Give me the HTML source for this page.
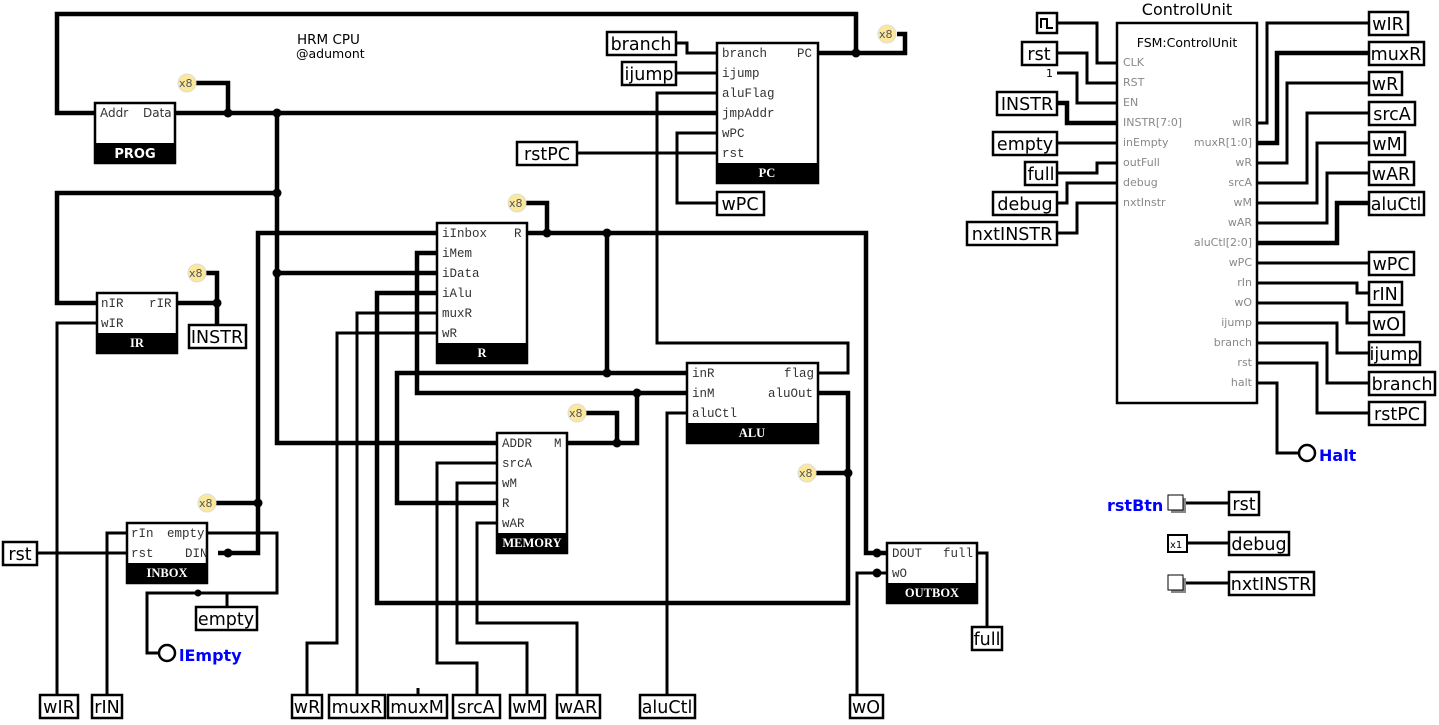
<!DOCTYPE html>
<html><head><meta charset="utf-8"><style>
body{margin:0;background:#fff}
svg{display:block}
.w{fill:none;stroke:#000;stroke-width:3}
.b{fill:none;stroke:#000;stroke-width:4.5}
.box{fill:#fff;stroke:#000;stroke-width:2.5}
.p{font-family:"Liberation Mono",monospace;font-size:12.5px;fill:#333}
.ft{font-family:"Liberation Serif",serif;font-size:12.5px;font-weight:bold;fill:#fff}
.lb{font-family:"DejaVu Sans","Liberation Sans",sans-serif;font-size:17.5px;fill:#000}
.cu{font-family:"DejaVu Sans","Liberation Sans",sans-serif;font-size:11px;fill:#888}
.x8{fill:#fbe89a;stroke:#ddd;stroke-width:1}
.x8t{font-family:"DejaVu Sans",sans-serif;font-size:11px;fill:#555}
</style></head><body>
<svg width="1439" height="725" viewBox="0 0 1439 725" xmlns="http://www.w3.org/2000/svg">
<g class="b">
<path d="M95 113H57V14H856V53"/>
<path d="M818 53H905V34H897"/>
<path d="M175 113H717"/>
<path d="M228 113V83H195"/>
<path d="M277 113V443H497"/>
<path d="M277 193H57V303H97"/>
<path d="M277 273H437"/>
<path d="M177 303H217V273H205"/>
<path d="M217 303V325"/>
<path d="M437 233H258V553H218"/>
<path d="M258 503H215"/>
<path d="M437 253H417V393H687"/>
<path d="M637 393V443H567"/>
<path d="M617 443V413H585"/>
<path d="M437 293H377V603H848V393H818"/>
<path d="M848 473H815"/>
<path d="M527 233H866V553H887"/>
<path d="M547 233V203H525"/>
<path d="M607 233V373H687"/>
<path d="M607 373H397V503H497"/>
<path d="M1057 103H1067V123H1117"/>
<path d="M1257 143H1277V53H1369"/>
<path d="M1257 243H1337V203H1369"/>
</g>
<g class="w">
<path d="M97 323H57V695"/>
<path d="M437 313H357V695"/>
<path d="M437 333H337V643H307V695"/>
<path d="M818 373H848V343H657V93H717"/>
<path d="M687 413H667V695"/>
<path d="M497 463H437V663H477V695"/>
<path d="M497 483H457V643H527V695"/>
<path d="M497 523H477V623H577V695"/>
<path d="M418 695V688"/>
<path d="M887 573H857V695"/>
<path d="M977 553H987V627"/>
<path d="M676 43H687V53H717"/>
<path d="M676 73H717"/>
<path d="M577 153H717"/>
<path d="M717 133H677V203H717"/>
<path d="M127 533H107V695"/>
<path d="M37 553H127"/>
<path d="M207 533H277V593H147V653H159"/>
<path d="M227 593V607"/>
<path d="M1057 23H1097V63H1117"/>
<path d="M1057 53H1087V83H1117"/>
<path d="M1057 73H1077V103H1117"/>
<path d="M1057 143H1117"/>
<path d="M1057 173H1097V163H1117"/>
<path d="M1057 203H1067V183H1117"/>
<path d="M1057 233H1077V203H1117"/>
<path d="M1257 123H1267V23H1369"/>
<path d="M1257 163H1287V83H1369"/>
<path d="M1257 183H1307V113H1369"/>
<path d="M1257 203H1317V143H1369"/>
<path d="M1257 223H1327V173H1369"/>
<path d="M1257 263H1369"/>
<path d="M1257 283H1357V293H1369"/>
<path d="M1257 303H1347V323H1369"/>
<path d="M1257 323H1337V353H1369"/>
<path d="M1257 343H1327V383H1369"/>
<path d="M1257 363H1317V413H1369"/>
<path d="M1257 383H1277V453H1299"/>
<path d="M1185 503H1229"/>
<path d="M1187 543H1229"/>
<path d="M1185 583H1229"/>
</g>
<g fill="#000">
<circle cx="856" cy="53" r="4.5"/><circle cx="228" cy="113" r="4.5"/><circle cx="277" cy="113" r="4.5"/>
<circle cx="277" cy="193" r="4.5"/><circle cx="277" cy="273" r="4.5"/><circle cx="217" cy="303" r="4.5"/>
<circle cx="547" cy="233" r="4.5"/><circle cx="607" cy="233" r="4.5"/><circle cx="607" cy="373" r="4.5"/>
<circle cx="637" cy="393" r="4.5"/><circle cx="617" cy="443" r="4.5"/><circle cx="848" cy="473" r="4.5"/>
<circle cx="258" cy="503" r="4.5"/><circle cx="228" cy="553" r="4.5"/><circle cx="877" cy="553" r="4.5"/>
<circle cx="877" cy="573" r="4.5"/><circle cx="198" cy="593" r="3.5"/>
</g>
<g>
<circle class="x8" cx="187" cy="83" r="9"/><text class="x8t" x="179" y="87">x8</text>
<circle class="x8" cx="887" cy="34" r="9"/><text class="x8t" x="879" y="38">x8</text>
<circle class="x8" cx="197" cy="273" r="9"/><text class="x8t" x="189" y="277">x8</text>
<circle class="x8" cx="517" cy="203" r="9"/><text class="x8t" x="509" y="207">x8</text>
<circle class="x8" cx="577" cy="413" r="9"/><text class="x8t" x="569" y="417">x8</text>
<circle class="x8" cx="807" cy="473" r="9"/><text class="x8t" x="799" y="477">x8</text>
<circle class="x8" cx="207" cy="503" r="9"/><text class="x8t" x="199" y="507">x8</text>
</g>
<text x="297" y="44" font-family="DejaVu Sans,sans-serif" font-size="13.5">HRM CPU</text>
<text x="296" y="58" font-family="DejaVu Sans,sans-serif" font-size="12.5">@adumont</text>
<rect class="box" x="95" y="103" width="80" height="60"/><rect x="95" y="143" width="80" height="20"/>
<text x="100" y="117" font-family="DejaVu Sans,sans-serif" font-size="12" fill="#333">Addr</text>
<text x="143" y="117" font-family="DejaVu Sans,sans-serif" font-size="12" fill="#333">Data</text>
<text x="135" y="158" text-anchor="middle" font-family="DejaVu Sans,sans-serif" font-size="13" font-weight="bold" fill="#fff">PROG</text>
<rect class="box" x="97" y="293" width="80" height="60"/><rect x="97" y="333" width="80" height="20"/>
<text class="p" x="101" y="307">nIR</text><text class="p" x="149" y="307">rIR</text><text class="p" x="101" y="327">wIR</text>
<text class="ft" x="137" y="347" text-anchor="middle">IR</text>
<rect class="box" x="437" y="223" width="90" height="140"/><rect x="437" y="343" width="90" height="20"/>
<text class="p" x="442" y="237">iInbox</text><text class="p" x="514" y="237">R</text>
<text class="p" x="442" y="257">iMem</text><text class="p" x="442" y="277">iData</text><text class="p" x="442" y="297">iAlu</text>
<text class="p" x="442" y="317">muxR</text><text class="p" x="442" y="337">wR</text>
<text class="ft" x="482" y="357" text-anchor="middle">R</text>
<rect class="box" x="717" y="43" width="101" height="140"/><rect x="717" y="163" width="101" height="20"/>
<text class="p" x="722" y="57">branch</text><text class="p" x="797" y="57">PC</text>
<text class="p" x="722" y="77">ijump</text><text class="p" x="722" y="97">aluFlag</text><text class="p" x="722" y="117">jmpAddr</text>
<text class="p" x="722" y="137">wPC</text><text class="p" x="722" y="157">rst</text>
<text class="ft" x="767" y="177" text-anchor="middle">PC</text>
<rect class="box" x="687" y="363" width="131" height="80"/><rect x="687" y="423" width="131" height="20"/>
<text class="p" x="692" y="377">inR</text><text class="p" x="784" y="377">flag</text>
<text class="p" x="692" y="397">inM</text><text class="p" x="768" y="397">aluOut</text><text class="p" x="692" y="417">aluCtl</text>
<text class="ft" x="752" y="437" text-anchor="middle">ALU</text>
<rect class="box" x="497" y="433" width="70" height="120"/><rect x="497" y="533" width="70" height="20"/>
<text class="p" x="502" y="447">ADDR</text><text class="p" x="554" y="447">M</text>
<text class="p" x="502" y="467">srcA</text><text class="p" x="502" y="487">wM</text><text class="p" x="502" y="507">R</text><text class="p" x="502" y="527">wAR</text>
<text class="ft" x="532" y="547" text-anchor="middle" font-size="11">MEMORY</text>
<rect class="box" x="127" y="523" width="80" height="60"/><rect x="127" y="563" width="80" height="20"/>
<text class="p" x="131" y="537">rIn</text><text class="p" x="167" y="537" font-size="11.5">empty</text>
<text class="p" x="131" y="557">rst</text><text class="p" x="185" y="557">DIN</text>
<text class="ft" x="167" y="577" text-anchor="middle">INBOX</text>
<rect class="box" x="887" y="543" width="90" height="60"/><rect x="887" y="583" width="90" height="20"/>
<text class="p" x="892" y="557">DOUT</text><text class="p" x="943" y="557">full</text><text class="p" x="892" y="577" font-size="11">wO</text>
<text class="ft" x="932" y="597" text-anchor="middle">OUTBOX</text>
<g fill="#fff" stroke="#000" stroke-width="2.5">
<rect x="607" y="32" width="69" height="23"/><rect x="622" y="62" width="54" height="23"/>
<rect x="517" y="142" width="60" height="23"/><rect x="717" y="192" width="47" height="23"/>
<rect x="189" y="325" width="57" height="23"/><rect x="3" y="542" width="34" height="23"/>
<rect x="196" y="607" width="61" height="23"/>
<rect x="40" y="695" width="38" height="23"/><rect x="92" y="695" width="30" height="23"/>
<rect x="292" y="695" width="30" height="23"/><rect x="329" y="695" width="56" height="23"/>
<rect x="388" y="695" width="59" height="23"/><rect x="453" y="695" width="47" height="23"/>
<rect x="510" y="695" width="35" height="23"/><rect x="557" y="695" width="43" height="23"/>
<rect x="640" y="695" width="55" height="23"/><rect x="850" y="695" width="33" height="23"/>
<rect x="972" y="627" width="30" height="23"/>
<rect x="1037" y="13" width="20" height="20"/>
<rect x="1022" y="42" width="35" height="23"/><rect x="997" y="92" width="60" height="23"/>
<rect x="993" y="132" width="64" height="23"/><rect x="1025" y="162" width="32" height="23"/>
<rect x="993" y="192" width="64" height="23"/><rect x="967" y="222" width="90" height="23"/>
<rect x="1369" y="12" width="39" height="23"/><rect x="1369" y="42" width="55" height="23"/>
<rect x="1369" y="72" width="33" height="23"/><rect x="1369" y="102" width="46" height="23"/>
<rect x="1369" y="132" width="36" height="23"/><rect x="1369" y="162" width="45" height="23"/>
<rect x="1369" y="192" width="55" height="23"/><rect x="1369" y="252" width="45" height="23"/>
<rect x="1369" y="282" width="33" height="23"/><rect x="1369" y="312" width="35" height="23"/>
<rect x="1369" y="342" width="51" height="23"/><rect x="1369" y="372" width="66" height="23"/>
<rect x="1369" y="402" width="56" height="23"/>
<rect x="1229" y="492" width="30" height="23"/><rect x="1229" y="532" width="60" height="23"/>
<rect x="1229" y="572" width="85" height="23"/>
<circle cx="167" cy="653" r="8"/><circle cx="1307" cy="453" r="8"/>
</g>
<path d="M1041 28V19H1047V28H1053" fill="none" stroke="#000" stroke-width="2"/>
<g class="lb" text-anchor="middle">
<text x="641" y="50">branch</text><text x="649" y="80">ijump</text><text x="547" y="160">rstPC</text><text x="740" y="210">wPC</text>
<text x="217" y="343">INSTR</text><text x="20" y="560">rst</text><text x="226" y="625">empty</text>
<text x="59" y="713">wIR</text><text x="107" y="713">rIN</text><text x="307" y="713">wR</text><text x="357" y="713">muxR</text>
<text x="417" y="713">muxM</text><text x="476" y="713">srcA</text><text x="527" y="713">wM</text><text x="578" y="713">wAR</text>
<text x="667" y="713">aluCtl</text><text x="866" y="713">wO</text><text x="987" y="645">full</text>
<text x="1039" y="60">rst</text><text x="1027" y="110">INSTR</text><text x="1025" y="150">empty</text><text x="1041" y="180">full</text>
<text x="1025" y="210">debug</text><text x="1012" y="240">nxtINSTR</text>
<text x="1388" y="30">wIR</text><text x="1396" y="60">muxR</text><text x="1385" y="90">wR</text><text x="1392" y="120">srcA</text>
<text x="1387" y="150">wM</text><text x="1391" y="180">wAR</text><text x="1396" y="210">aluCtl</text><text x="1391" y="270">wPC</text>
<text x="1385" y="300">rIN</text><text x="1386" y="330">wO</text><text x="1394" y="360">ijump</text><text x="1402" y="390">branch</text>
<text x="1397" y="420">rstPC</text>
<text x="1244" y="510">rst</text><text x="1259" y="550">debug</text><text x="1271" y="590">nxtINSTR</text>
</g>
<text x="179" y="661" font-family="DejaVu Sans,sans-serif" font-size="16" font-weight="bold" fill="#00f">lEmpty</text>
<text x="1319" y="461" font-family="DejaVu Sans,sans-serif" font-size="16" font-weight="bold" fill="#00f">Halt</text>
<text x="1107" y="511" font-family="DejaVu Sans,sans-serif" font-size="16" font-weight="bold" fill="#00f">rstBtn</text>
<text x="1046" y="77" font-family="DejaVu Sans,sans-serif" font-size="11">1</text>
<rect x="1171" y="498" width="15" height="15" fill="#888"/><rect x="1168" y="495" width="15" height="15" fill="#fff" stroke="#000"/>
<rect x="1171" y="578" width="15" height="15" fill="#888"/><rect x="1168" y="575" width="15" height="15" fill="#fff" stroke="#000"/>
<rect x="1168" y="535" width="19" height="17" fill="#fff" stroke="#000" stroke-width="2"/>
<text x="1170" y="548" font-family="DejaVu Sans,sans-serif" font-size="10">x1</text>
<rect class="box" x="1117" y="23" width="140" height="380"/>
<text x="1187" y="15" text-anchor="middle" font-family="DejaVu Sans,sans-serif" font-size="16">ControlUnit</text>
<text x="1187" y="47" text-anchor="middle" font-family="DejaVu Sans,sans-serif" font-size="12.5">FSM:ControlUnit</text>
<g class="cu">
<text x="1123" y="66">CLK</text><text x="1123" y="86">RST</text><text x="1123" y="106">EN</text><text x="1123" y="126">INSTR[7:0]</text>
<text x="1123" y="146">inEmpty</text><text x="1123" y="166">outFull</text><text x="1123" y="186">debug</text><text x="1123" y="206">nxtInstr</text>
</g>
<g class="cu" text-anchor="end">
<text x="1252" y="126">wIR</text><text x="1252" y="146">muxR[1:0]</text><text x="1252" y="166">wR</text><text x="1252" y="186">srcA</text>
<text x="1252" y="206">wM</text><text x="1252" y="226">wAR</text><text x="1252" y="246">aluCtl[2:0]</text><text x="1252" y="266">wPC</text>
<text x="1252" y="286">rIn</text><text x="1252" y="306">wO</text><text x="1252" y="326">ijump</text><text x="1252" y="346">branch</text>
<text x="1252" y="366">rst</text><text x="1252" y="386">halt</text>
</g>
</svg>
</body></html>
